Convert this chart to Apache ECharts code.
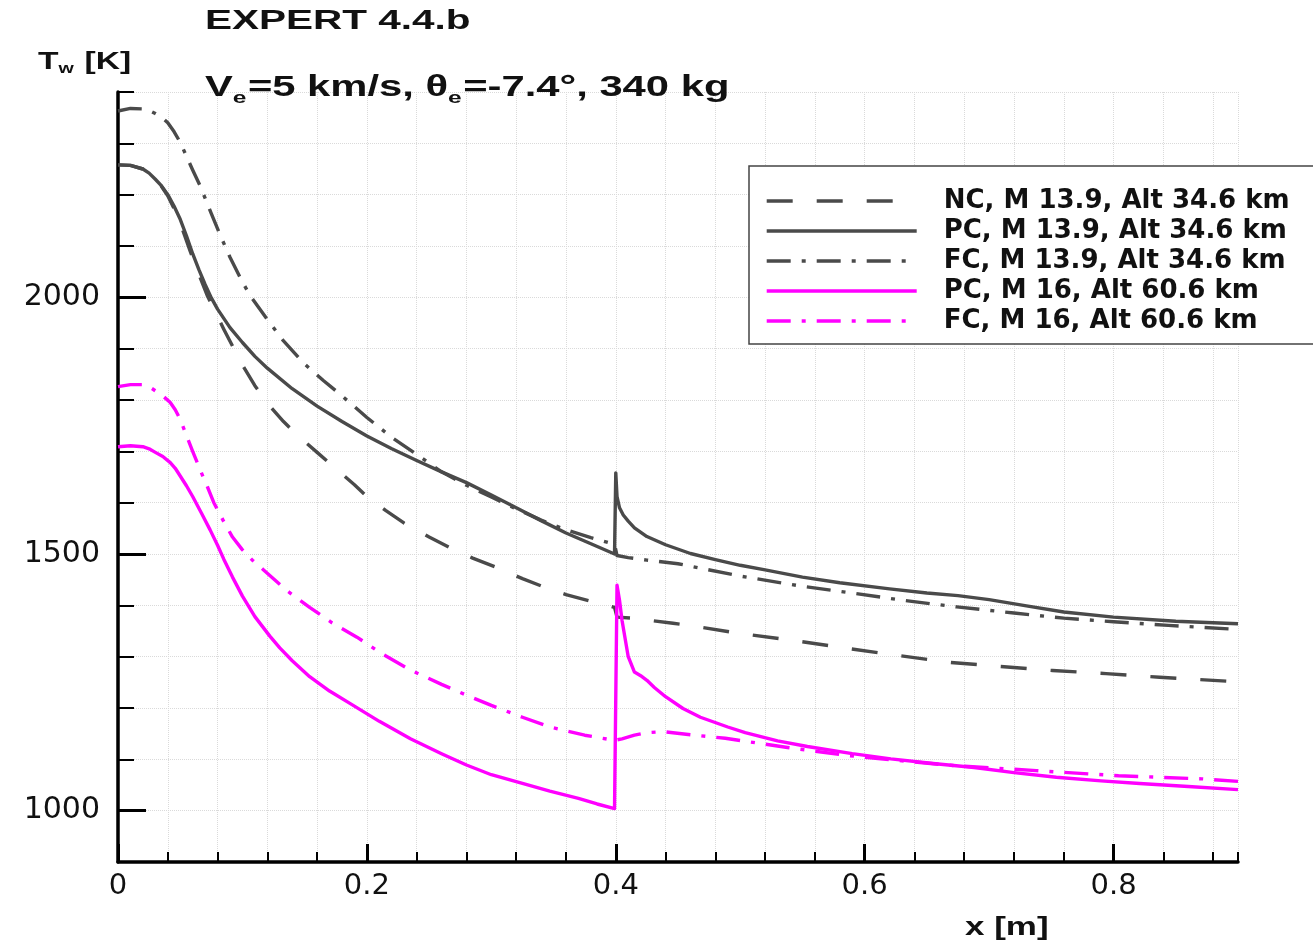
<!DOCTYPE html>
<html><head><meta charset="utf-8">
<script src="https://cdn.jsdelivr.net/npm/echarts@6/dist/echarts.min.js"></script>
<style>html,body{margin:0;padding:0;background:#fff}#c{width:1313px;height:946px}</style>
</head><body><div id="c"></div>
<script>
// ---- data: [x (m), Tw (K)] ----
const ncGray = [[0,2258],[0.01,2257],[0.02,2250],[0.03,2230],[0.035,2216],[0.04,2198],[0.045,2173],[0.05,2145],[0.058,2090],[0.065,2045],[0.072,2002],[0.085,1938],[0.1,1868],[0.11,1828],[0.122,1788],[0.133,1758],[0.144,1732],[0.16,1698],[0.176,1664],[0.19,1635],[0.2,1612],[0.215,1585],[0.23,1560],[0.25,1533],[0.267,1512],[0.285,1492],[0.305,1473],[0.325,1452],[0.342,1436],[0.36,1421],[0.38,1408],[0.399,1396],[0.401,1377],[0.414,1375],[0.43,1370],[0.446,1365],[0.459,1361],[0.5,1345],[0.542,1332],[0.581,1318],[0.625,1303],[0.668,1289],[0.709,1281],[0.751,1273],[0.794,1267],[0.837,1260],[0.9,1251]];
const pcGray = [[0,2258],[0.01,2257],[0.02,2250],[0.025,2242],[0.03,2230],[0.035,2217],[0.04,2200],[0.045,2178],[0.05,2152],[0.055,2120],[0.06,2085],[0.065,2054],[0.07,2025],[0.075,1999],[0.08,1977],[0.09,1941],[0.1,1912],[0.11,1885],[0.12,1862],[0.14,1822],[0.16,1788],[0.18,1758],[0.2,1730],[0.22,1705],[0.24,1682],[0.26,1660],[0.28,1639],[0.3,1615],[0.32,1590],[0.34,1565],[0.36,1541],[0.38,1520],[0.399,1500],[0.4,1658],[0.401,1612],[0.403,1590],[0.406,1576],[0.41,1564],[0.415,1551],[0.425,1534],[0.44,1518],[0.46,1501],[0.48,1489],[0.5,1478],[0.52,1469],[0.55,1455],[0.58,1444],[0.62,1432],[0.65,1424],[0.675,1419],[0.7,1411],[0.73,1399],[0.76,1387],[0.8,1377],[0.85,1369],[0.9,1364]];
const fcGray = [[0,2363],[0.01,2368],[0.02,2367],[0.025,2364],[0.03,2358],[0.035,2351],[0.04,2340],[0.045,2323],[0.05,2302],[0.055,2275],[0.06,2248],[0.066,2217],[0.075,2163],[0.082,2122],[0.09,2078],[0.1,2030],[0.106,2004],[0.12,1957],[0.133,1915],[0.15,1870],[0.165,1838],[0.18,1808],[0.2,1766],[0.22,1727],[0.24,1694],[0.26,1660],[0.28,1634],[0.3,1611],[0.32,1588],[0.34,1566],[0.36,1547],[0.38,1532],[0.399,1519],[0.401,1497],[0.41,1493],[0.425,1488],[0.45,1481],[0.5,1457],[0.55,1437],[0.59,1424],[0.63,1410],[0.674,1397],[0.72,1385],[0.76,1375],[0.8,1368],[0.844,1361],[0.9,1353]];
const pcMag = [[0,1709],[0.01,1711],[0.02,1709],[0.025,1705],[0.03,1698],[0.036,1690],[0.042,1678],[0.046,1667],[0.05,1652],[0.055,1633],[0.06,1612],[0.067,1580],[0.074,1547],[0.08,1517],[0.085,1490],[0.092,1455],[0.1,1418],[0.11,1378],[0.122,1340],[0.13,1317],[0.14,1292],[0.154,1261],[0.17,1233],[0.187,1208],[0.21,1174],[0.235,1140],[0.26,1111],[0.28,1089],[0.3,1070],[0.325,1053],[0.347,1038],[0.37,1024],[0.385,1013],[0.399,1004],[0.401,1439],[0.403,1410],[0.405,1371],[0.41,1300],[0.415,1270],[0.42,1263],[0.425,1254],[0.431,1240],[0.44,1222],[0.454,1199],[0.468,1182],[0.49,1163],[0.504,1152],[0.53,1136],[0.554,1125],[0.59,1111],[0.621,1101],[0.655,1092],[0.688,1084],[0.72,1074],[0.754,1065],[0.79,1058],[0.821,1053],[0.86,1047],[0.9,1041]];
const fcMag = [[0,1826],[0.01,1830],[0.02,1830],[0.025,1826],[0.03,1818],[0.036,1808],[0.042,1795],[0.046,1781],[0.05,1762],[0.055,1731],[0.06,1700],[0.066,1664],[0.072,1630],[0.077,1600],[0.085,1563],[0.092,1533],[0.1,1508],[0.108,1488],[0.117,1469],[0.135,1430],[0.154,1396],[0.172,1366],[0.192,1338],[0.212,1306],[0.235,1274],[0.26,1246],[0.28,1225],[0.3,1205],[0.325,1182],[0.347,1163],[0.375,1147],[0.399,1137],[0.405,1140],[0.415,1147],[0.425,1152],[0.438,1154],[0.46,1148],[0.488,1141],[0.538,1123],[0.588,1107],[0.63,1097],[0.671,1088],[0.738,1078],[0.804,1068],[0.871,1062],[0.9,1057]];

const seriesNames = ['NC, M 13.9, Alt 34.6 km','PC, M 13.9, Alt 34.6 km','FC, M 13.9, Alt 34.6 km','PC, M 16, Alt 60.6 km','FC, M 16, Alt 60.6 km'];
const xMajorTicks = [0, 0.2, 0.4, 0.6, 0.8];
const yMajorTicks = [1000, 1500, 2000];

const GRAY = '#4a4a4a', MAG = '#ff00ff';
const DASH = [26, 24], DASHDOT = [24, 11, 4, 11];
function mk(name, data, color, type) {
  return { name, type: 'line', data, symbol: 'none', showSymbol: false, clip: true, smooth: false,
    lineStyle: { color, width: 3.4, type, cap: 'butt', join: 'round' }, itemStyle: { color } };
}

// text with subscripts, built from plain text pieces inside a horizontally scaled group
const mctx = document.createElement('canvas').getContext('2d');
function tw(t, fs) { mctx.font = 'bold ' + fs + 'px "Liberation Sans"'; return mctx.measureText(t).width; }
function subText(x, y, sx, parts, fs, subFs, subDy) {
  const children = []; let cx = 0;
  parts.forEach(([t, isSub]) => {
    const f = isSub ? subFs : fs;
    children.push({ type: 'text', x: cx, y: isSub ? subDy : 0, z: 100,
      style: { text: t, fontFamily: 'Liberation Sans', fontWeight: 'bold', fontSize: f, fill: '#111', verticalAlign: 'middle', align: 'left' } });
    cx += tw(t, f) + (isSub ? 1 : 0);
  });
  return { type: 'group', x, y, scaleX: sx, z: 100, children };
}

const chart = echarts.init(document.getElementById('c'));
chart.setOption({
  animation: false,
  backgroundColor: '#fff',
  grid: { left: 118, right: 75, top: 92, bottom: 84 },
  xAxis: [
    { type: 'value', min: 0, max: 0.9, interval: 0.04, position: 'bottom',
      axisLine: { show: true, onZero: false, lineStyle: { color: '#000', width: 3.5 } },
      axisTick: { show: true, inside: true, length: 10, lineStyle: { color: '#000', width: 2 } },
      axisLabel: { show: false },
      splitLine: { show: true, lineStyle: { color: '#dadada', type: 'dotted', width: 1 } } },
    { type: 'value', min: 0, max: 0.9, position: 'bottom',
      axisLine: { show: false, onZero: false },
      axisTick: { show: true, inside: true, length: 18, customValues: xMajorTicks, lineStyle: { color: '#000', width: 3 } },
      axisLabel: { show: true, customValues: xMajorTicks, margin: 10, fontFamily: 'DejaVu Sans', fontSize: 29, color: '#111',
        formatter: v => String(+v.toFixed(1)) },
      splitLine: { show: false } }
  ],
  yAxis: [
    { type: 'value', min: 900, max: 2400, interval: 100, position: 'left',
      axisLine: { show: true, onZero: false, lineStyle: { color: '#000', width: 3.5 } },
      axisTick: { show: true, inside: true, length: 16, lineStyle: { color: '#000', width: 2 } },
      axisLabel: { show: false },
      splitLine: { show: true, lineStyle: { color: '#dadada', type: 'dotted', width: 1 } } },
    { type: 'value', min: 900, max: 2400, position: 'left',
      axisLine: { show: false, onZero: false },
      axisTick: { show: true, inside: true, length: 28, customValues: yMajorTicks, lineStyle: { color: '#000', width: 3 } },
      axisLabel: { show: true, customValues: yMajorTicks, margin: 18, fontFamily: 'DejaVu Sans', fontSize: 30, color: '#111',
        formatter: v => String(Math.round(v)) },
      splitLine: { show: false } }
  ],
  legend: {
    orient: 'vertical', left: 749, top: 166,
    padding: [20, 60, 8, 16],
    itemWidth: 150, itemHeight: 14, itemGap: 0,
    backgroundColor: '#fff', borderColor: '#444', borderWidth: 1.5,
    itemStyle: { opacity: 0 },
    lineStyle: { width: 3.4 },
    selectedMode: false,
    textStyle: { fontFamily: 'DejaVu Sans', fontWeight: 'bold', fontSize: 26, color: '#111', lineHeight: 30, padding: [0, 0, 0, 22] },
    data: seriesNames
  },
  graphic: [
    { type: 'text', x: 205, y: 22, scaleX: 1.5, z: 100,
      style: { text: 'EXPERT 4.4.b', fontFamily: 'Liberation Sans', fontWeight: 'bold', fontSize: 27, fill: '#111', verticalAlign: 'middle' } },
    subText(205, 88, 1.44, [['V', false], ['e', true], ['=5 km/s, θ', false], ['e', true], ['=-7.4°, 340 kg', false]], 29, 17, 10),
    subText(38, 62, 1.4, [['T', false], ['w', true], [' [K]', false]], 24, 14, 7),
    { type: 'text', x: 965, y: 928, scaleX: 1.4, z: 100,
      style: { text: 'x [m]', fontFamily: 'Liberation Sans', fontWeight: 'bold', fontSize: 25, fill: '#111', verticalAlign: 'middle' } }
  ],
  series: [
    mk(seriesNames[0], ncGray, GRAY, DASH),
    mk(seriesNames[1], pcGray, GRAY, 'solid'),
    mk(seriesNames[2], fcGray, GRAY, DASHDOT),
    mk(seriesNames[3], pcMag, MAG, 'solid'),
    mk(seriesNames[4], fcMag, MAG, DASHDOT)
  ]
});
</script>
</body></html>
